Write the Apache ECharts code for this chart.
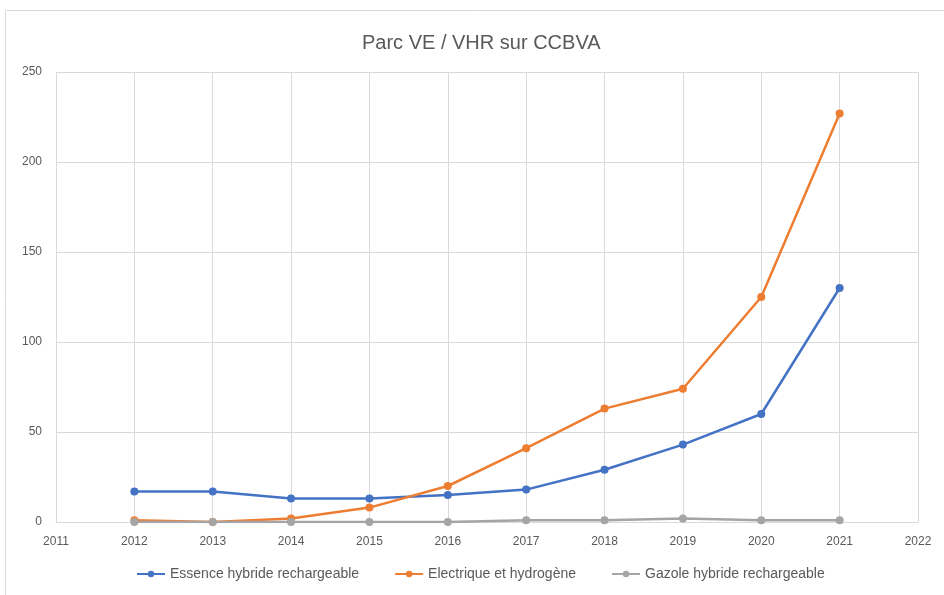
<!DOCTYPE html>
<html>
<head>
    <meta charset="utf-8">
    <title>Parc VE / VHR sur CCBVA</title>
    <script src="https://cdn.jsdelivr.net/npm/echarts@6/dist/echarts.min.js"></script>
    <style>
        html, body { margin: 0; padding: 0; background: #fff; }
        #main { width: 944px; height: 595px; }
    </style>
</head>
<body>
    <div id="main"></div>
</body>
<script type="text/javascript">
    var years = [2012, 2013, 2014, 2015, 2016, 2017, 2018, 2019, 2020, 2021];
    var essence = [17, 17, 13, 13, 15, 18, 29, 43, 60, 130];
    var electrique = [1, 0, 2, 8, 20, 41, 63, 74, 125, 227];
    var gazole = [0, 0, 0, 0, 0, 1, 1, 2, 1, 1];

    function pairs(vals) {
        return years.map(function (y, i) { return [y, vals[i]]; });
    }

    var txt = '#595959';
    var gridColor = '#d9d9d9';
    var font = "'Liberation Sans', Arial, sans-serif";

    function lineSeries(name, color, vals) {
        return {
            name: name,
            type: 'line',
            data: pairs(vals),
            symbol: 'circle',
            symbolSize: 8,
            lineStyle: { width: 2.5, color: color },
            itemStyle: { color: color },
            emphasis: { disabled: true }
        };
    }

    var chart = echarts.init(document.getElementById('main'));
    chart.setOption({
        backgroundColor: '#fff',
        animation: false,
        title: {
            text: 'Parc VE / VHR sur CCBVA',
            left: 357,
            top: 28,
            textStyle: { color: txt, fontSize: 20, fontWeight: 'normal', fontFamily: font }
        },
        graphic: [{
            type: 'rect',
            shape: { x: 5.5, y: 10.5, width: 1000, height: 1000 },
            style: { fill: 'none', stroke: gridColor, lineWidth: 1 },
            silent: true
        }],
        legend: {
            bottom: 9,
            left: 131,
            itemWidth: 28,
            itemHeight: 8,
            itemGap: 35,
            textStyle: { color: txt, fontSize: 14, fontFamily: font },
            data: ['Essence hybride rechargeable', 'Electrique et hydrogène', 'Gazole hybride rechargeable']
        },
        grid: { left: 56, right: 26, top: 72, bottom: 73 },
        xAxis: {
            type: 'value',
            min: 2011,
            max: 2022,
            interval: 1,
            axisLine: { show: true, lineStyle: { color: gridColor } },
            axisTick: { show: false },
            axisLabel: {
                color: txt, fontSize: 12, fontFamily: font, margin: 14,
                formatter: function (v) { return String(v); }
            },
            splitLine: { show: true, lineStyle: { color: gridColor } }
        },
        yAxis: {
            type: 'value',
            min: 0,
            max: 250,
            interval: 50,
            axisLine: { show: false },
            axisTick: { show: false },
            axisLabel: { color: txt, fontSize: 12, fontFamily: font, margin: 14 },
            splitLine: { show: true, lineStyle: { color: gridColor } }
        },
        series: [
            lineSeries('Essence hybride rechargeable', '#4472C4', essence),
            lineSeries('Electrique et hydrogène', '#ED7D31', electrique),
            lineSeries('Gazole hybride rechargeable', '#A5A5A5', gazole)
        ]
    });
</script>
</html>
